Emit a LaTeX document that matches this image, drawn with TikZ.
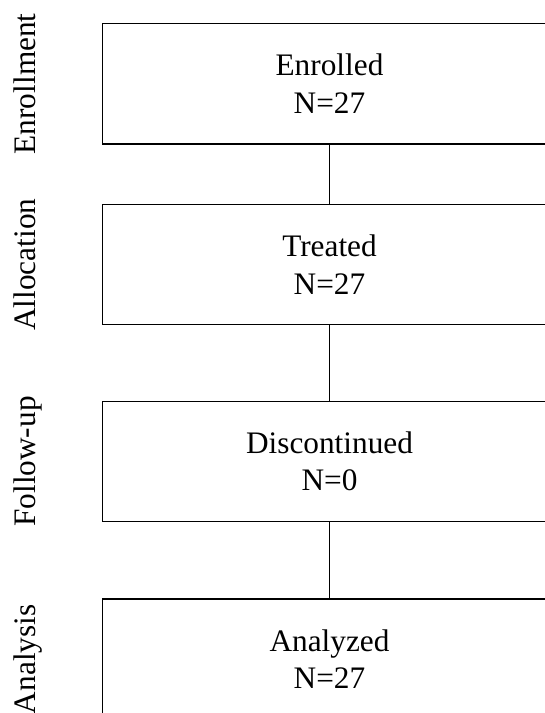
\documentclass[tikz,border=0pt]{standalone}
\usepackage{fontspec}
\setmainfont{Liberation Serif}
\begin{document}
\begin{tikzpicture}[x=1pt,y=1pt,
  stagebox/.style={draw=black, line width=1.1pt, rectangle, inner sep=0pt,
    minimum width=453.5pt, minimum height=120.5pt, align=center,
    font=\fontsize{31.3}{37.5}\selectfont},
  phase/.style={rotate=90, anchor=base, inner sep=0pt,
    font=\fontsize{31.3}{37.5}\selectfont},
  link/.style={draw=black, line width=1.2pt}]
\useasboundingbox (0,0) rectangle (545,713);
\clip (0,0) rectangle (545,713);

% stage boxes
\node[stagebox] (enr) at (329.5,629.2) {Enrolled\\N=27};
\node[stagebox] (trt) at (329.5,448.3) {Treated\\N=27};
\node[stagebox] (dis) at (329.5,251.5) {Discontinued\\N=0};
\node[stagebox] (ana) at (329.5,53.7) {Analyzed\\N=27};

% connectors
\draw[link] (enr.south) -- (trt.north);
\draw[link] (trt.south) -- (dis.north);
\draw[link] (dis.south) -- (ana.north);

% phase labels
\node[phase] (l1) at (35.5,629.2) {Enrollment};
\node[phase] (l2) at (35.5,448.3) {Allocation};
\node[phase] (l3) at (35.5,251.5) {Follow-up};
\node[phase] (l4) at (35.5,53.7) {Analysis};
\end{tikzpicture}
\end{document}
